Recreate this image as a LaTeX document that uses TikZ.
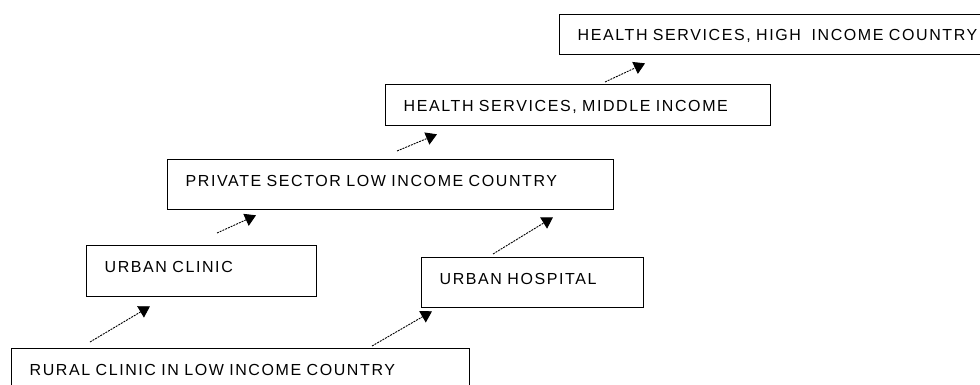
\documentclass[tikz,border=0pt]{standalone}
\usepackage{fontspec}
\newfontfamily\boxfont[LetterSpace=10, WordSpace=1.3]{Liberation Sans}
\usetikzlibrary{arrows.meta}

\begin{document}
\begin{tikzpicture}[
        x=1pt, y=-1pt, % координаты в пикселях, ось y вниз
        cell/.style={draw, line width=1.3pt, anchor=north west, align=left,
            inner xsep=18pt, inner ysep=0pt, text height=27pt,
            font=\boxfont\fontsize{16}{18}\selectfont}, % Стиль блоков
        link/.style={line width=0.9pt, dash pattern=on 2pt off 1pt,
            -{Triangle[width=13pt, length=11pt]}}, % Стиль стрелок
    ]
    \useasboundingbox (0,0) rectangle (980,385);
    \clip (0,0) rectangle (980,385);

    \node[cell, text width=422pt, text depth=23pt] (rural) at (11,348) {RURAL CLINIC IN LOW INCOME COUNTRY};
    \node[cell, text width=194pt, text depth=24pt] (uclinic) at (86,245) {URBAN CLINIC};
    \node[cell, text width=186pt, text depth=23pt] (uhosp) at (421,257) {URBAN HOSPITAL};
    \node[cell, text width=410pt, text depth=23pt] (private) at (167,159) {PRIVATE SECTOR LOW INCOME COUNTRY};
    \node[cell, text width=349pt, text depth=14pt] (middle) at (385,84) {HEALTH SERVICES, MIDDLE INCOME};
    \node[cell, text width=404pt, text depth=14pt, text height=26pt] (high) at (559,14) {HEALTH SERVICES, HIGH\ \ INCOME COUNTRY};

    \draw[link] ([shift={(79,-6)}]rural.north west) -- ([shift={(64,9)}]uclinic.south west);
    \draw[link] ([shift={(361,-2)}]rural.north west) -- ([shift={(11,3)}]uhosp.south west);
    \draw[link] ([shift={(131,-12)}]uclinic.north west) -- ([shift={(89,5)}]private.south west);
    \draw[link] ([shift={(72,-3)}]uhosp.north west) -- ([shift={(386,7)}]private.south west);
    \draw[link] ([shift={(230,-8)}]private.north west) -- ([shift={(52,8)}]middle.south west);
    \draw[link] ([shift={(220,-2)}]middle.north west) -- ([shift={(86,8)}]high.south west);
\end{tikzpicture}
\end{document}
